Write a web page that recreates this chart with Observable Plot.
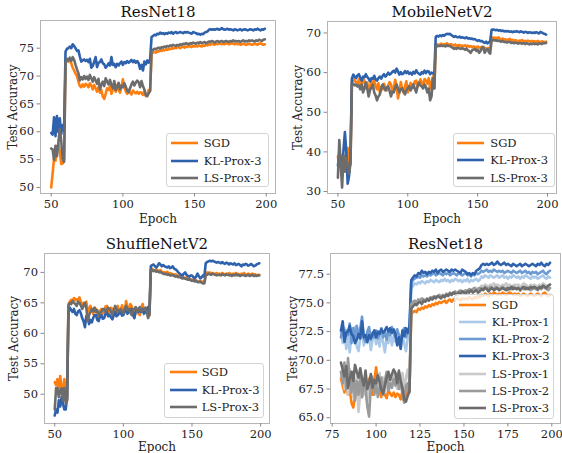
<!DOCTYPE html>
<html><head><meta charset="utf-8">
<script src="https://cdn.jsdelivr.net/npm/d3@7"></script>
<script src="https://cdn.jsdelivr.net/npm/@observablehq/plot@0.6"></script>
<style>
body{margin:0;background:#fff;}
#wrap{position:relative;width:562px;height:453px;font-family:"DejaVu Serif",serif;overflow:hidden;}
.panel{position:absolute;}
.legend{position:absolute;box-sizing:border-box;border:1px solid #d4d4d4;border-radius:3px;background:rgba(255,255,255,0.8);font-size:11.5px;color:#222;}
.row{position:absolute;left:0;height:16px;line-height:16px;white-space:nowrap;}
.row svg{position:absolute;top:0;}
.row span{position:absolute;top:0;}
</style></head><body><div id="wrap"></div>
<script>
// ---------- DATA ----------
const epochsFull = d3.range(50, 200);   // epochs 50..199
const epochsLate = d3.range(80, 200);   // epochs 80..199

// ResNet18
const resnetSGD = [
50.0,52.5,55.3,54.8,57.0,57.8,56.5,54.2,54.3,55.0,
72.4,73.0,72.6,72.8,72.3,71.5,71.0,70.4,70.0,69.0,
68.2,68.0,68.5,68.1,68.6,68.4,68.0,68.7,68.3,67.6,
68.4,67.8,67.2,68.0,67.0,67.5,66.3,65.9,66.8,67.8,
67.5,68.2,66.8,67.6,68.0,67.2,68.4,67.5,67.0,68.1,
69.4,68.0,67.3,66.8,67.5,67.0,66.7,67.4,67.1,66.9,
67.2,66.8,67.1,67.0,66.6,67.3,66.4,66.7,67.5,67.4,
74.0,74.2,74.3,74.2,74.5,74.4,74.6,74.5,74.7,74.6,
74.8,74.7,74.9,74.8,75.0,74.9,75.1,75.0,75.1,75.2,
75.0,75.2,75.3,75.1,75.3,75.2,75.4,75.3,75.2,75.4,
75.3,75.4,75.3,75.5,75.4,75.3,75.5,75.4,75.6,75.5,
75.7,75.6,75.8,75.7,75.6,75.8,75.7,75.9,75.8,75.7,
75.8,75.7,75.9,75.8,75.7,75.8,75.9,75.8,75.7,75.8,
75.7,75.8,75.6,75.7,75.8,75.7,75.6,75.7,75.8,75.7,
75.6,75.7,75.8,75.7,75.6,75.8,75.9,75.7,75.6,75.7];
const resnetKL3 = [
59.8,59.5,62.6,59.2,62.8,60.0,62.4,59.6,61.2,60.2,
74.4,74.9,75.0,75.3,75.0,75.7,75.4,75.0,74.5,74.6,
73.5,72.6,72.8,73.0,72.7,72.9,72.5,73.1,71.5,71.8,
72.6,73.4,71.6,72.4,72.5,73.0,72.3,72.1,71.5,71.8,
72.3,71.9,73.4,72.0,72.2,71.6,72.2,71.9,72.3,72.6,
72.0,72.5,72.3,72.7,72.4,72.6,72.9,72.5,72.8,72.4,
72.7,72.3,71.3,72.0,71.0,72.6,72.1,72.8,72.4,73.0,
77.0,77.2,77.4,77.3,77.6,77.5,77.8,77.6,77.7,77.5,
77.7,77.6,77.8,77.7,77.9,77.6,77.8,77.9,77.7,77.8,
77.9,77.8,77.7,77.9,77.8,77.9,77.8,77.7,77.6,77.9,
77.8,77.7,77.5,77.6,77.4,77.6,77.5,77.8,77.9,78.0,
78.3,78.4,78.3,78.4,78.3,78.4,78.5,78.3,78.4,78.6,
78.4,78.3,78.4,78.5,78.3,78.4,78.3,78.2,78.4,78.3,
78.2,78.3,78.4,78.2,78.3,78.4,78.3,78.2,78.3,78.4,
78.3,78.2,78.4,78.3,78.5,78.3,78.2,78.4,78.3,78.5];
const resnetLS3 = [
57.0,56.8,55.0,57.5,55.6,58.0,60.5,58.3,55.2,54.6,
72.5,73.1,72.8,73.3,72.7,73.4,72.9,72.0,71.2,70.5,
69.2,69.8,69.4,70.0,69.5,69.9,69.3,70.2,69.6,69.0,
69.8,69.2,68.6,69.5,67.6,68.4,69.0,68.2,69.6,69.0,
68.5,69.3,68.4,67.8,69.1,67.5,68.0,68.8,67.6,68.3,
68.0,68.7,68.1,67.4,67.1,67.8,68.5,69.0,68.3,68.8,
69.2,68.9,68.0,69.1,68.2,67.6,66.6,66.4,66.9,67.3,
74.5,74.7,74.9,74.8,75.0,75.1,74.9,75.2,75.1,75.3,
75.2,75.4,75.3,75.5,75.4,75.6,75.5,75.4,75.6,75.5,
75.7,75.6,75.8,75.7,75.9,75.8,75.7,75.9,75.8,76.0,
75.9,75.8,76.0,75.9,76.1,75.9,76.0,76.1,75.9,76.0,
76.2,76.1,76.3,76.2,76.0,76.2,76.3,76.1,76.2,76.3,
76.1,76.2,76.3,76.2,76.1,76.3,76.2,76.4,76.2,76.3,
76.2,76.3,76.1,76.3,76.4,76.2,76.3,76.2,76.4,76.3,
76.4,76.3,76.2,76.4,76.3,76.5,76.4,76.3,76.5,76.6];

// MobileNetV2
const mobileSGD = [
38.8,37.0,39.2,36.0,37.5,39.0,38.0,41.0,36.2,37.0,
57.5,58.4,58.0,57.6,57.2,58.3,57.0,56.8,58.5,57.9,
56.0,57.5,55.0,56.6,57.8,57.0,58.2,56.5,55.8,57.3,
55.0,56.4,55.8,57.2,56.0,55.5,56.8,57.6,57.0,55.4,
56.0,58.2,56.5,53.5,55.2,57.6,56.0,55.0,56.5,57.8,
55.0,56.3,57.4,57.0,56.2,57.8,58.0,56.5,57.2,58.3,
57.5,56.8,58.4,58.0,57.2,58.6,56.0,57.5,59.0,56.0,
67.0,67.2,66.8,67.1,67.3,66.9,67.2,67.0,67.4,67.1,
66.9,67.2,67.0,66.8,67.1,66.7,66.9,67.0,66.6,66.8,
66.7,66.9,66.6,66.8,66.5,66.7,66.4,66.6,66.5,66.3,
66.6,66.4,66.2,66.5,66.0,66.3,66.1,65.9,66.2,66.0,
68.8,68.9,68.7,68.8,68.6,68.9,68.5,68.4,68.6,68.3,
68.4,68.2,68.3,68.5,68.1,68.3,68.0,68.2,68.1,67.9,
68.1,68.0,68.2,67.9,68.0,67.8,68.1,67.9,67.8,68.0,
67.8,67.9,67.7,68.0,67.8,67.7,67.9,67.8,67.6,67.8];
const mobileKL3 = [
36.5,40.0,38.0,34.0,40.5,45.0,40.0,32.0,34.0,39.0,
58.5,59.5,59.0,58.6,59.3,59.6,58.7,58.0,59.0,58.8,
59.6,58.9,58.5,57.8,58.6,58.4,59.2,58.3,58.0,58.6,
59.0,58.5,59.2,59.6,59.0,59.4,60.0,59.5,59.8,60.2,
60.5,60.0,61.0,60.3,59.5,60.1,59.6,59.8,60.4,59.9,
60.3,59.7,60.0,59.5,60.2,59.8,60.6,60.0,59.7,59.5,
60.1,59.8,60.5,59.9,60.4,60.3,59.6,60.0,59.8,59.5,
69.0,69.3,69.1,69.4,69.2,69.5,69.3,69.6,69.8,69.7,
69.8,69.5,69.3,69.0,69.2,69.0,68.9,69.1,68.8,68.9,
68.8,68.7,68.9,68.6,68.7,68.5,68.6,68.4,68.5,68.2,
68.0,68.2,67.9,68.0,67.7,67.5,67.8,67.4,67.6,68.0,
70.8,70.9,70.8,70.7,70.8,70.6,70.7,70.5,70.6,70.4,
70.5,70.4,70.5,70.3,70.4,70.2,70.4,70.3,70.5,70.3,
70.2,70.4,70.3,70.1,70.3,70.2,70.0,70.2,70.1,70.0,
70.1,70.0,70.2,70.0,69.9,70.3,70.1,69.9,69.8,69.6];
const mobileLS3 = [
33.5,43.0,37.0,31.0,39.0,35.0,38.5,36.0,34.5,37.0,
57.0,57.2,56.8,57.0,56.5,56.8,55.8,57.0,55.0,56.2,
57.5,56.0,54.0,55.6,56.2,57.0,55.0,54.2,53.0,54.0,
54.5,56.0,57.0,56.2,55.5,56.3,56.5,55.4,54.0,55.2,
55.0,56.3,57.0,56.0,55.0,55.8,56.0,55.2,54.5,55.6,
56.0,56.6,55.5,56.2,57.0,56.0,55.0,56.5,57.5,56.8,
56.5,56.0,57.0,56.4,55.0,56.0,53.0,54.0,58.5,56.0,
66.5,66.6,66.8,66.7,66.9,66.7,66.8,66.6,66.9,66.7,
66.8,66.5,66.3,66.0,66.2,66.0,66.3,66.1,66.0,66.2,
66.0,65.8,66.1,65.6,65.4,65.0,65.6,65.8,66.0,65.5,
65.8,65.0,65.4,66.2,66.5,65.0,65.6,66.0,65.2,64.8,
68.2,68.3,68.1,68.2,68.0,68.1,67.9,67.8,68.0,67.7,
67.8,67.6,67.7,67.8,67.5,67.6,67.4,67.6,67.5,67.3,
67.5,67.4,67.3,67.5,67.2,67.4,67.3,67.1,67.3,67.2,
67.4,67.2,67.3,67.1,67.4,67.3,67.2,67.5,67.4,67.5];

// ShuffleNetV2
const shuffleSGD = [
52.0,51.5,52.5,50.0,53.0,51.0,50.5,52.5,51.0,49.0,
64.8,65.2,65.5,65.3,65.8,65.4,65.6,65.5,65.9,65.2,
64.5,65.0,64.8,65.2,63.5,64.0,64.5,63.8,63.2,64.2,
64.0,63.4,62.5,63.7,64.0,63.2,63.5,64.4,64.5,63.0,
63.5,64.2,64.0,63.4,63.0,64.0,64.5,63.2,63.5,64.6,
64.0,63.6,65.3,64.2,63.5,64.8,64.5,63.6,62.5,63.8,
64.0,63.2,63.0,64.2,64.8,63.8,63.5,64.0,64.3,63.0,
70.5,70.6,70.4,70.3,70.5,70.3,70.2,70.4,70.1,70.0,
70.0,69.9,70.1,69.8,69.9,69.8,69.7,69.6,69.7,69.5,
69.5,69.4,69.3,69.4,69.1,69.0,69.2,68.9,68.8,68.9,
68.7,68.8,68.6,68.7,68.5,68.5,68.6,68.4,68.5,68.4,
69.8,70.0,69.9,70.0,69.8,69.9,69.7,69.8,69.9,69.7,
69.8,69.7,69.9,69.8,69.6,69.8,69.7,69.9,69.8,69.6,
69.8,69.7,69.9,69.8,69.7,69.6,69.8,69.7,69.9,69.6,
69.7,69.8,69.6,69.7,69.8,69.6,69.7,69.5,69.6,69.6];
const shuffleKL3 = [
46.5,47.5,47.0,49.0,48.0,49.5,48.5,47.5,47.5,49.5,
63.5,64.2,63.8,63.5,64.0,63.2,63.0,63.6,63.8,63.3,
62.5,62.0,61.0,62.8,63.0,61.5,62.2,61.8,62.5,63.0,
63.0,62.2,62.0,62.8,63.0,62.4,62.5,63.2,63.5,62.8,
63.0,62.6,62.3,63.0,63.5,62.8,63.0,63.4,63.5,62.9,
63.0,63.6,64.0,63.2,63.5,63.8,64.0,63.0,62.5,63.6,
64.0,63.5,63.8,63.5,64.0,63.2,63.5,63.9,64.3,63.5,
71.0,71.2,71.3,71.0,70.8,71.1,71.5,71.3,71.0,71.2,
71.0,70.9,70.8,71.0,70.7,70.8,71.0,70.6,70.5,70.3,
70.0,69.8,69.6,69.5,69.8,70.0,69.6,69.4,69.3,69.5,
69.5,69.2,69.0,69.3,69.8,69.4,69.0,69.2,69.5,69.3,
71.5,71.7,71.8,71.9,71.8,71.9,71.8,71.7,71.6,71.7,
71.6,71.5,71.7,71.5,71.4,71.6,71.5,71.3,71.5,71.4,
71.3,71.5,71.2,71.3,71.4,71.2,71.0,71.3,71.2,71.4,
71.3,71.1,71.2,71.4,71.2,71.0,71.1,71.3,71.4,71.5];
const shuffleLS3 = [
47.5,51.0,51.0,49.5,50.5,51.0,49.0,51.0,48.5,49.0,
64.5,65.0,64.8,65.3,65.0,64.8,64.5,65.2,65.0,64.6,
64.0,64.5,65.0,64.2,62.0,63.0,63.5,64.0,63.6,64.2,
63.5,63.8,63.0,63.4,63.5,64.0,64.0,63.5,63.8,64.2,
64.0,63.5,63.0,63.8,64.5,64.0,63.5,63.8,64.0,63.6,
63.3,64.0,64.5,63.8,64.0,63.5,63.0,63.8,64.0,64.3,
63.5,64.0,64.3,63.6,63.8,64.0,64.2,63.5,62.5,63.0,
70.3,70.4,70.2,70.3,70.1,70.2,70.0,70.1,69.9,69.8,
69.7,69.8,69.6,69.7,69.5,69.5,69.6,69.4,69.3,69.4,
69.2,69.3,69.1,69.0,69.1,69.0,68.9,68.8,68.9,68.7,
68.6,68.7,68.5,68.6,68.4,68.4,68.5,68.3,68.2,68.2,
69.5,69.6,69.8,69.7,69.6,69.8,69.7,69.6,69.5,69.6,
69.6,69.5,69.7,69.6,69.5,69.7,69.6,69.5,69.6,69.4,
69.6,69.5,69.7,69.5,69.6,69.4,69.5,69.6,69.5,69.4,
69.5,69.6,69.4,69.5,69.6,69.4,69.5,69.4,69.5,69.5];

// ResNet18 ablation (epochs 80..199)
const resnetKL1 = [
72.5,71.5,72.8,71.0,72.2,70.7,72.4,71.8,72.9,71.2,
70.8,72.0,72.6,71.3,72.1,71.5,72.3,70.9,71.8,72.5,
71.4,72.0,71.2,72.3,71.6,70.7,72.0,71.5,72.4,71.3,
72.1,71.6,72.5,71.8,71.0,72.2,71.5,70.8,71.9,72.3,
76.2,76.5,76.7,76.6,76.8,76.7,76.9,76.8,76.7,76.9,
76.8,77.0,76.9,76.8,77.0,76.9,76.8,77.0,76.9,77.1,
76.9,77.0,76.8,77.0,76.9,77.1,77.0,76.9,77.0,76.8,
77.0,76.9,77.1,76.8,77.0,76.9,77.0,77.1,76.9,77.0,
77.3,77.2,77.4,77.3,77.2,77.4,77.3,77.2,77.3,77.4,
77.2,77.3,77.4,77.2,77.3,77.1,77.3,77.2,77.4,77.3,
77.2,77.3,77.1,77.3,77.2,77.4,77.3,77.2,77.1,77.3,
77.2,77.3,77.1,77.2,77.3,77.4,77.2,77.1,77.3,77.2];
const resnetKL2 = [
72.0,73.0,71.8,72.6,72.2,73.2,71.5,72.8,72.0,73.0,
72.2,72.8,73.8,72.0,71.6,72.5,72.9,71.8,72.4,72.0,
72.6,71.9,72.3,72.8,72.0,72.5,71.8,72.6,72.2,72.9,
72.3,72.0,72.7,72.2,71.6,72.5,72.8,72.0,72.4,72.6,
76.7,77.0,77.1,77.2,77.3,77.2,77.4,77.3,77.4,77.3,
77.5,77.4,77.5,77.6,77.4,77.5,77.6,77.5,77.4,77.6,
77.5,77.6,77.4,77.5,77.6,77.5,77.4,77.6,77.5,77.4,
77.5,77.6,77.4,77.5,77.3,77.5,77.4,77.6,77.5,77.6,
77.8,77.7,77.8,77.9,77.7,77.8,77.7,77.9,77.8,77.7,
77.8,77.7,77.8,77.6,77.7,77.8,77.7,77.6,77.8,77.7,
77.6,77.7,77.8,77.6,77.7,77.8,77.6,77.7,77.5,77.7,
77.6,77.7,77.5,77.6,77.7,77.8,77.6,77.5,77.7,77.8];
const resnetLS1 = [
68.5,69.3,67.5,68.8,67.0,69.2,68.0,66.8,67.8,68.6,
65.5,67.2,68.4,67.0,68.8,66.5,68.0,67.4,68.6,67.8,
68.3,67.5,68.9,67.8,68.5,67.2,68.1,68.8,67.6,68.4,
69.0,68.2,67.5,68.6,68.0,68.9,67.3,68.5,69.2,68.0,
74.8,75.0,75.1,75.0,75.2,75.1,75.3,75.2,75.1,75.3,
75.2,75.4,75.3,75.5,75.4,75.5,75.6,75.4,75.6,75.5,
75.7,75.6,75.8,75.7,75.9,75.8,75.7,75.9,76.0,75.9,
76.0,76.1,76.0,76.2,76.1,76.0,76.2,76.3,76.2,76.3,
76.5,76.4,76.6,76.5,76.4,76.6,76.5,76.7,76.5,76.6,
76.5,76.4,76.6,76.5,76.7,76.5,76.6,76.4,76.5,76.6,
76.5,76.6,76.4,76.5,76.7,76.6,76.5,76.4,76.6,76.5,
76.6,76.5,76.4,76.6,76.5,76.7,76.6,76.5,76.4,76.6];
const resnetLS2 = [
69.0,68.0,69.8,67.5,70.2,68.4,67.2,69.0,66.5,68.2,
67.0,68.6,66.8,68.0,67.5,66.0,65.1,67.8,68.5,67.0,
68.0,66.8,67.6,68.5,67.0,68.2,69.0,67.4,68.0,67.6,
68.4,67.8,68.8,67.5,68.2,67.0,66.3,67.8,68.0,67.2,
74.9,75.1,75.2,75.0,75.3,75.2,75.4,75.3,75.2,75.4,
75.3,75.5,75.4,75.6,75.5,75.6,75.7,75.5,75.7,75.6,
75.8,75.7,75.9,75.8,75.9,76.0,75.8,76.0,76.1,76.0,
76.0,76.1,76.0,76.2,76.1,76.2,76.3,76.1,76.2,76.3,
76.3,76.2,76.4,76.3,76.2,76.4,76.3,76.2,76.4,76.3,
76.2,76.3,76.4,76.2,76.3,76.1,76.3,76.2,76.4,76.3,
76.2,76.3,76.1,76.3,76.2,76.4,76.2,76.3,76.1,76.2,
76.3,76.2,76.1,76.3,76.2,76.4,76.3,76.2,76.1,76.3];

const seriesNames = ["SGD","KL-Prox-1","KL-Prox-2","KL-Prox-3","LS-Prox-1","LS-Prox-2","LS-Prox-3"];
const seriesColors = ["#ff7f0e","#aac8e8","#6b9bd2","#2f62ad","#cacaca","#9a9a9a","#6c6c6c"];
const color = Object.fromEntries(seriesNames.map((n,i)=>[n,seriesColors[i]]));

const titles = ["ResNet18","MobileNetV2","ShuffleNetV2","ResNet18"];
const xTicksA = [50,100,150,200];
const xTicksB = [75,100,125,150,175,200];
const yTicks1 = [50,55,60,65,70,75];
const yTicks2 = [30,40,50,60,70];
const yTicks3 = [50,55,60,65,70];
const yTicks4 = [65,67.5,70,72.5,75,77.5];

// ---------- BUILD ----------
const toRows = (ep, vals) => vals.map((v,i)=>({e: ep[i], v}));
const late = arr => arr.slice(epochsLate[0]-epochsFull[0]);

const panels = [
  {title: titles[0], left:0, top:0, w:281, h:226, m:[20,6,33,40], xd:[42.55,206.45], yd:[48.92,79.97],
   xt:xTicksA, yt:yTicks1, yf:d3.format("d"), tdy:-8.5, xdy:25.3, ydx:-27.7,
   series:[["SGD",toRows(epochsFull,resnetSGD)],["KL-Prox-3",toRows(epochsFull,resnetKL3)],["LS-Prox-3",toRows(epochsFull,resnetLS3)]],
   leg:{left:165.7, top:133.3, w:103.6, h:54, r0:10, dr:17.5, sx:4.5, tx:38}},
  {title: titles[1], left:281, top:0, w:281, h:226, m:[21,6,33,46], xd:[42.55,206.45], yd:[29.5,72.9],
   xt:xTicksA, yt:yTicks2, yf:d3.format("d"), tdy:-9.3, xdy:25.3, ydx:-29,
   series:[["SGD",toRows(epochsFull,mobileSGD)],["KL-Prox-3",toRows(epochsFull,mobileKL3)],["LS-Prox-3",toRows(epochsFull,mobileLS3)]],
   leg:{left:171.7, top:133.3, w:102.3, h:54, r0:10, dr:17.2, sx:3.5, tx:37.6}},
  {title: titles[2], left:0, top:226, w:281, h:227, m:[27,12,30,44], xd:[42.55,206.45], yd:[45.2,73.1],
   xt:xTicksA, yt:yTicks3, yf:d3.format("d"), tdy:-9.4, xdy:23.3, ydx:-30.3,
   series:[["SGD",toRows(epochsFull,shuffleSGD)],["KL-Prox-3",toRows(epochsFull,shuffleKL3)],["LS-Prox-3",toRows(epochsFull,shuffleLS3)]],
   leg:{left:164, top:136.7, w:100, h:55, r0:9.5, dr:17.5, sx:4.5, tx:37.7}},
  {title: titles[3], left:281, top:226, w:281, h:227, m:[27,2,30,49], xd:[74.05,204.95], yd:[64.5,79.3],
   xt:xTicksB, yt:yTicks4, yf:d3.format(".1f"), tdy:-9, xdy:23.3, ydx:-37.6,
   series:[["SGD",toRows(epochsLate,late(resnetSGD))],
           ["KL-Prox-1",toRows(epochsLate,resnetKL1)],["KL-Prox-2",toRows(epochsLate,resnetKL2)],["KL-Prox-3",toRows(epochsLate,late(resnetKL3))],
           ["LS-Prox-1",toRows(epochsLate,resnetLS1)],["LS-Prox-2",toRows(epochsLate,resnetLS2)],["LS-Prox-3",toRows(epochsLate,late(resnetLS3))]],
   leg:{left:173.3, top:68.3, w:99.4, h:124.4, r0:11, dr:17.06, sx:3.5, tx:37.4}}
];

const wrap = document.getElementById("wrap");
for (const p of panels) {
  const [mt, mr, mb, ml] = p.m;
  const svg = Plot.plot({
    width: p.w, height: p.h,
    marginTop: mt, marginRight: mr, marginBottom: mb, marginLeft: ml,
    x: {domain: p.xd},
    y: {domain: p.yd},
    style: {fontFamily: "'DejaVu Serif', serif", fontSize: "11px", color: "#222", background: "white", overflow: "visible"},
    marks: [
      ...p.series.map(([name, rows]) => Plot.line(rows, {x: "e", y: "v", stroke: color[name], strokeWidth: 2.6})),
      Plot.frame({stroke: "#b5b5b5", strokeWidth: 1}),
      Plot.axisX({ticks: p.xt, tickSize: 3.5, tickPadding: 3, label: null, stroke: "#888", fill: "#222", fontSize: 11.5, tickFormat: d3.format("d")}),
      Plot.axisY({ticks: p.yt, tickSize: 3.5, tickPadding: 3, label: null, stroke: "#888", fill: "#222", fontSize: 11.5, tickFormat: p.yf}),
      Plot.text([p.title], {frameAnchor: "top", dy: p.tdy, lineAnchor: "middle", fontSize: 15, fill: "#111"}),
      Plot.text(["Epoch"], {frameAnchor: "bottom", dy: p.xdy, lineAnchor: "middle", fontSize: 12, fill: "#222"}),
      Plot.text(["Test Accuracy"], {frameAnchor: "left", dx: p.ydx, rotate: -90, textAnchor: "middle", lineAnchor: "middle", fontSize: 12, fill: "#222"})
    ]
  });
  const div = document.createElement("div");
  div.className = "panel";
  div.style.left = p.left + "px"; div.style.top = p.top + "px";
  div.style.width = p.w + "px"; div.style.height = p.h + "px";
  div.appendChild(svg);
  // legend
  const L = p.leg;
  const lg = document.createElement("div");
  lg.className = "legend";
  Object.assign(lg.style, {left: L.left + "px", top: L.top + "px", width: L.w + "px", height: L.h + "px"});
  p.series.forEach(([name], i) => {
    const row = document.createElement("div");
    row.className = "row";
    row.style.top = (L.r0 + i * L.dr - 8 - 1) + "px";
    row.innerHTML = `<svg width="40" height="16" style="left:${L.sx}px"><line x1="1.3" x2="25.7" y1="8" y2="8" stroke="${color[name]}" stroke-width="2.6" stroke-linecap="square"/></svg><span style="left:${L.tx - 1}px">${name}</span>`;
    lg.appendChild(row);
  });
  div.appendChild(lg);
  wrap.appendChild(div);
}
</script></body></html>
